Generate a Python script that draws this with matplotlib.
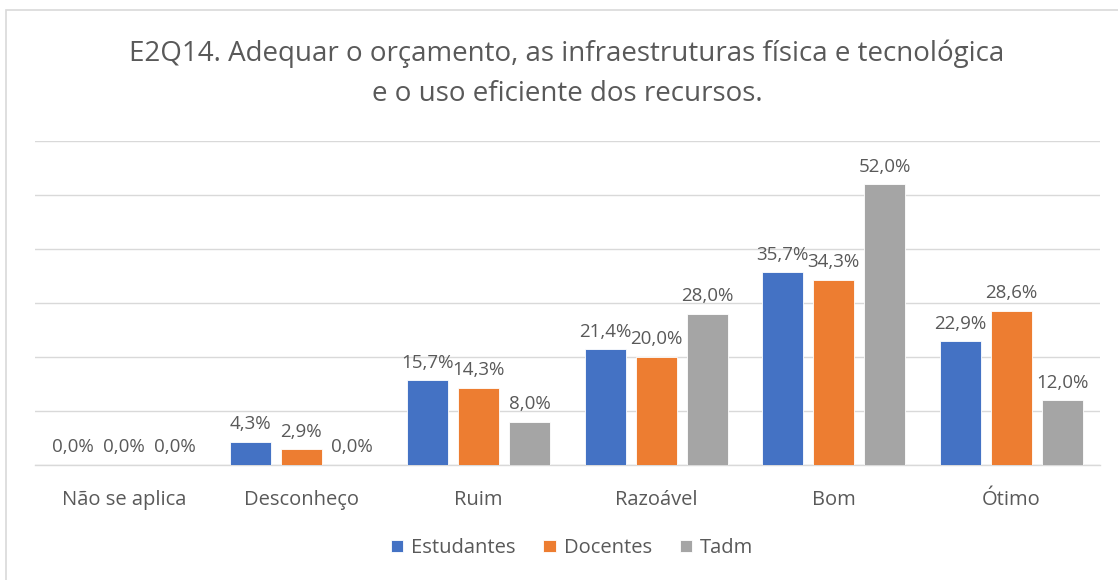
import matplotlib.pyplot as plt
from matplotlib.patches import Rectangle
import numpy as np

plt.rcParams['font.family'] = ['Open Sans', 'DejaVu Sans']

categories = ['Não se aplica', 'Desconheço', 'Ruim', 'Razoável', 'Bom', 'Ótimo']
estudantes = [0.0, 4.3, 15.7, 21.4, 35.7, 22.9]
docentes = [0.0, 2.9, 14.3, 20.0, 34.3, 28.6]
tadm = [0.0, 0.0, 8.0, 28.0, 52.0, 12.0]

series = [('Estudantes', estudantes, '#4472C4'),
          ('Docentes', docentes, '#ED7D31'),
          ('Tadm', tadm, '#A5A5A5')]

text_color = '#595959'

fig = plt.figure(figsize=(11.18, 5.8), dpi=100)
W, H = 1118, 580
ax = fig.add_axes([35 / W, 1 - 465 / H, 1065 / W, (465 - 141) / H])

# chart border
fig.patches.append(Rectangle((6 / W, -0.1), 1.2, 1 - 10 / H + 0.1, transform=fig.transFigure,
                             fill=False, edgecolor='#D9D9D9', linewidth=1.2))

x = np.arange(len(categories))
width = 0.232
step = 0.288
for i, (name, vals, color) in enumerate(series):
    pos = x + (i - 1) * step
    ax.bar(pos, vals, width, color=color, label=name, edgecolor='white', linewidth=0.6, zorder=3)
    for p, v in zip(pos, vals):
        ax.text(p, v + 1.6, f'{v:.1f}%'.replace('.', ','), ha='center', va='bottom',
                fontsize=13.5, color=text_color)

ax.set_xlim(-0.5, len(categories) - 0.5)
ax.set_ylim(0, 60)
ax.set_yticks(np.arange(0, 61, 10))
ax.yaxis.grid(True, color='#D9D9D9', linewidth=1)
ax.set_yticklabels([])
ax.tick_params(axis='y', length=0)
ax.tick_params(axis='x', length=0, pad=18)
ax.set_xticks(x)
ax.set_xticklabels(categories, fontsize=14.5, color=text_color)
for s in ['top', 'right', 'left']:
    ax.spines[s].set_visible(False)
ax.spines['bottom'].set_color('#D9D9D9')
ax.spines['bottom'].set_linewidth(1)

fig.text(567 / W, 1 - 74 / H, 'E2Q14. Adequar o orçamento, as infraestruturas física e tecnológica\ne o uso eficiente dos recursos.',
         ha='center', va='center', fontsize=20, color=text_color, linespacing=1.55)

fig.legend(loc='center', bbox_to_anchor=(572 / W, 1 - 548 / H), ncol=3, frameon=False,
           fontsize=14.5, labelcolor=text_color, handlelength=0.6, handleheight=0.6,
           handletextpad=0.4, columnspacing=1.4)

fig.savefig('out.png', dpi=100)
